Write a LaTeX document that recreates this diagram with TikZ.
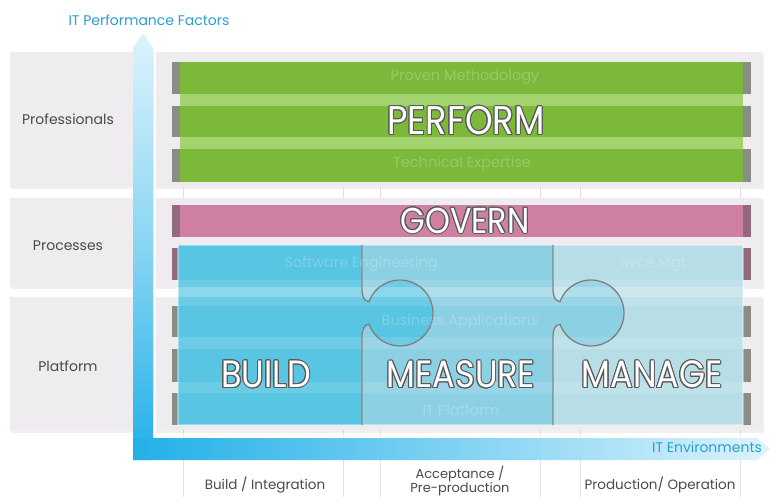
\documentclass[tikz,border=0pt]{standalone}
\usepackage{fontspec}
\setmainfont{Poppins}
\newfontfamily\bigf[FakeStretch=0.88]{Poppins}
\usepackage{contour}
\contourlength{1.0pt}
\contournumber{16}
\definecolor{panel}{HTML}{EEECEE}
\definecolor{gridl}{HTML}{E2E0E2}
\definecolor{grn}{HTML}{7CB93B}
\definecolor{grnl}{HTML}{A3D36E}
\definecolor{pnk}{HTML}{CF7FA4}
\definecolor{pcap}{HTML}{93697D}
\definecolor{gcap}{HTML}{8A8C86}
\definecolor{bar}{HTML}{DADADA}
\definecolor{axisd}{HTML}{22B0E8}
\definecolor{axisl}{HTML}{DDF3FC}
\definecolor{bld}{HTML}{58C5E2}
\definecolor{msr}{HTML}{8BD0E3}
\definecolor{mng}{HTML}{B7DDE7}
\definecolor{lbl}{HTML}{4A4A4A}
\definecolor{ttl}{HTML}{2A9ED2}
\tikzset{
  rowlbl/.style={font=\fontsize{14}{16}\selectfont, text=lbl, inner sep=0pt},
  collbl/.style={font=\fontsize{13.5}{15}\selectfont, text=lbl, inner sep=0pt, align=center},
  axislbl/.style={font=\fontsize{14}{16}\selectfont, text=ttl, inner sep=0pt},
  bigtxt/.style={font=\bigf\fontsize{#1}{#1}\selectfont, text=white, inner sep=0pt},
  faint/.style={font=\fontsize{14.5}{16}\selectfont, text=white, text opacity=0.22, inner sep=0pt},
  piece/.style={fill=#1, draw=white, line width=0.8pt},
  seam/.style={draw=gray!75!black, line width=1.3pt, draw opacity=0.8},
}
\begin{document}
\begin{tikzpicture}[x=1pt,y=-1pt]
\useasboundingbox (0,0) rectangle (772,497);
\fill[white] (0,0) rectangle (772,497);
% column grid lines
\foreach \cx in {183,343,380,540,580,740} \draw[gridl, line width=0.8pt] (\cx,187) -- (\cx,497);
% panels with soft shadow
\foreach \ya/\yb in {52/187,198/287,297/430} {
  \fill[black, opacity=0.06] (11,\ya+1.5) rectangle (764,\yb+2.5);
  \fill[panel] (10,\ya) rectangle (762,\yb);
}
% professionals bars
\fill[grnl] (180,62) rectangle (743,182);
\foreach \ya/\yb in {62/94,106/137,149/182} {
  \fill[grn] (180,\ya) rectangle (743,\yb);
  \fill[gcap] (172,\ya) rectangle (180,\yb);
  \fill[gcap] (743,\ya) rectangle (751,\yb);
}
% processes bars
\foreach \ya/\yb in {205/237,248/280} {
  \fill[pnk] (180,\ya) rectangle (743,\yb);
  \fill[pcap] (172,\ya) rectangle (180,\yb);
  \fill[pcap] (743,\ya) rectangle (751,\yb);
}
% platform bars
\foreach \ya/\yb in {306/337,349/382,393/425} {
  \fill[bar] (180,\ya) rectangle (743,\yb);
  \fill[gcap] (172,\ya) rectangle (180,\yb);
  \fill[gcap] (743,\ya) rectangle (751,\yb);
}
% puzzle pieces
\path[piece=mng] (553,245) -- (743,245) -- (743,425) -- (553,425) -- (553,338)
  .. controls (553,329) and (555,325) .. (560,324.3) arc[start angle=160, end angle=-160, radius=33]
  .. controls (555,301) and (553,297) .. (553,288) -- cycle;
\path[piece=msr] (362,245) -- (553,245) -- (553,288)
  .. controls (553,297) and (555,301) .. (560,301.7) arc[start angle=200, end angle=520, radius=33]
  .. controls (555,325) and (553,329) .. (553,338) -- (553,425) -- (362,425) -- (362,338)
  .. controls (362,329) and (364,325) .. (369,324.3) arc[start angle=160, end angle=-160, radius=33]
  .. controls (364,301) and (362,297) .. (362,288) -- cycle;
\path[piece=bld] (178,245) -- (362,245) -- (362,288)
  .. controls (362,297) and (364,301) .. (369,301.7) arc[start angle=200, end angle=520, radius=33]
  .. controls (364,325) and (362,329) .. (362,338) -- (362,425) -- (178,425) -- cycle;
% translucent highlights where the panels leave gaps
\fill[white, opacity=0.12] (178,280) rectangle (743,306);
\fill[white, opacity=0.22] (178,287) rectangle (743,297);
\fill[white, opacity=0.12] (178,337) rectangle (743,349);
\fill[white, opacity=0.12] (178,382) rectangle (743,393);
% seams between the pieces
\draw[seam] (362,245) -- (362,288)
  .. controls (362,297) and (364,301) .. (369,301.7) arc[start angle=200, end angle=520, radius=33]
  .. controls (364,325) and (362,329) .. (362,338) -- (362,425);
\draw[seam] (553,245) -- (553,288)
  .. controls (553,297) and (555,301) .. (560,301.7) arc[start angle=200, end angle=520, radius=33]
  .. controls (555,325) and (553,329) .. (553,338) -- (553,425);
% axes
\shade[top color=axisl, bottom color=axisd, middle color=axisl!55!axisd]
  (133,460) -- (133,48) -- (143,33) -- (153,48) -- (153,460) -- cycle;
\shade[left color=axisd, right color=axisl, middle color=axisl!50!axisd]
  (133,438) -- (757,438) -- (770,449) -- (757,460) -- (133,460) -- cycle;
\draw[white, line width=1.2pt, opacity=0.9] (155,50) -- (155,436) -- (757,436);
% row labels
\node[rowlbl] (prof) at (68,119) {Professionals};
\node[rowlbl] (proc) at (68,246) {Processes};
\node[rowlbl] (plat) at (68,366) {Platform};
% axis labels
\node[axislbl] (yax) at (149,20) {IT Performance Factors};
\node[axislbl] (xax) at (707,447) {IT Environments};
% column labels
\node[collbl] (c1) at (265,485) {Build / Integration};
\node[collbl, font=\fontsize{13}{14.5}\selectfont] (c2) at (460,481) {Acceptance /\\Pre-production};
\node[collbl] (c3) at (660,485) {Production/ Operation};
% faint bar labels
\node[faint] (pm) at (465,77) {Proven Methodology};
\node[faint] (te) at (462,164) {Technical Expertise};
\node[faint] (se) at (361,264) {Software Engineering};
\node[faint] (sm) at (653,264) {Svce Mgt};
\node[faint] (ba) at (460,322) {Business Applications};
\node[faint] (ip) at (461,410) {IT Platform};
% big labels
\node[bigtxt=40] (perform) at (466,121) {\contour{black!65}{PERFORM}};
\node[bigtxt=36] (govern) at (465,221) {\contour{black!65}{GOVERN}};
\node[bigtxt=38] (build) at (266,375) {\contour{black!65}{BUILD}};
\node[bigtxt=38] (measure) at (461,375) {\contour{black!65}{MEASURE}};
\node[bigtxt=38] (manage) at (652,375) {\contour{black!65}{MANAGE}};
\end{tikzpicture}
\end{document}
